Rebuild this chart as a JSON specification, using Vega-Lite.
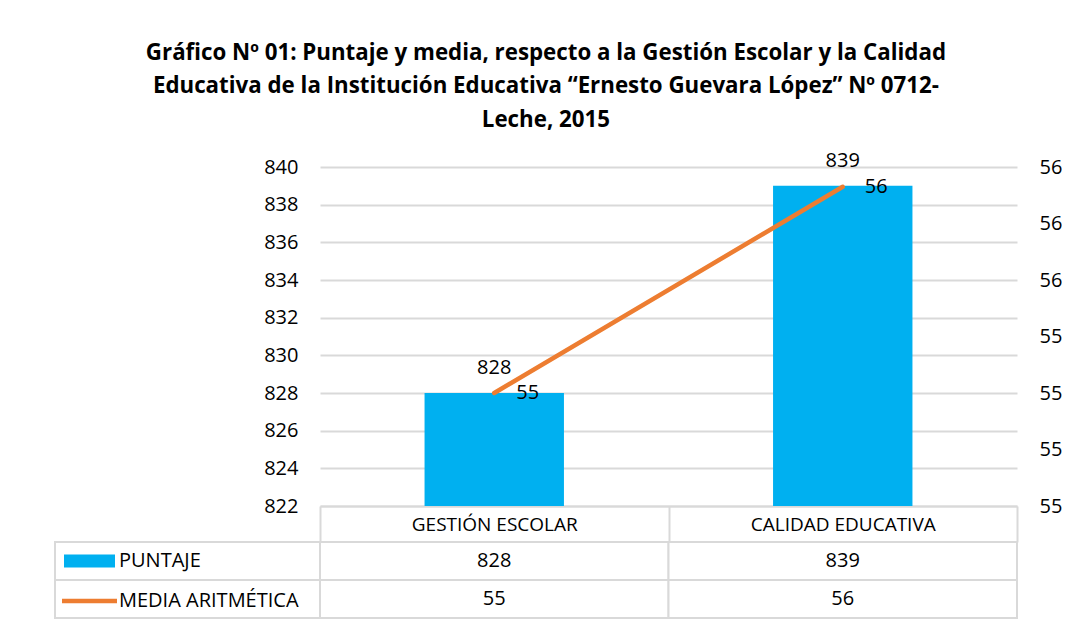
{
  "$schema": "https://vega.github.io/schema/vega-lite/v6.json",
  "padding": {"left": 54, "top": 41, "right": 0, "bottom": 0},
  "background": "white",
  "title": {
    "text": ["Gráfico Nº 01: Puntaje y media, respecto a la Gestión Escolar y la Calidad", "Educativa de la Institución Educativa “Ernesto Guevara López” Nº 0712-", "Leche, 2015"],
    "font": "Open Sans", "fontSize": 22.3, "fontWeight": "bold", "lineHeight": 33.5, "color": "#000000", "anchor": "middle", "offset": 20, "dx": -12
  },
  "datasets": {
    "tabla": [
      {"categoria": "GESTIÓN ESCOLAR", "serie": "PUNTAJE", "valor": 828},
      {"categoria": "CALIDAD EDUCATIVA", "serie": "PUNTAJE", "valor": 839},
      {"categoria": "GESTIÓN ESCOLAR", "serie": "MEDIA ARITMÉTICA", "valor": 55.2},
      {"categoria": "CALIDAD EDUCATIVA", "serie": "MEDIA ARITMÉTICA", "valor": 55.93}
    ]
  },
  "columns": 2,
  "bounds": "flush",
  "align": "each",
  "spacing": {"row": 36, "column": 0},
  "resolve": {"legend": {"color": "independent", "shape": "independent"}},
  "concat": [
    {
      "width": 265, "height": 339,
      "data": {"name": "tabla"},
      "transform": [{"filter": "datum.categoria === 'GESTIÓN ESCOLAR' && datum.serie === 'PUNTAJE'"}],
      "mark": {"type": "text", "text": ""},
      "encoding": {}
    },
    {
      "width": 697, "height": 339,
      "data": {"name": "tabla"},
      "encoding": {
        "x": {
          "field": "categoria", "type": "nominal", "sort": ["GESTIÓN ESCOLAR", "CALIDAD EDUCATIVA"],
          "scale": {"paddingInner": 0, "paddingOuter": 0}, "title": null,
          "axis": {"orient": "bottom", "domain": true, "domainColor": "#d9d9d9", "domainWidth": 2, "ticks": true, "tickBand": "extent", "tickSize": 36, "tickColor": "#d9d9d9", "tickWidth": 2, "labelPadding": -18, "labelBaseline": "middle", "labelAngle": 0, "labelFontSize": 19, "labelLimit": 400, "grid": false}
        }
      },
      "layer": [
        {
          "transform": [{"filter": "datum.serie === 'PUNTAJE'"}],
          "encoding": {
            "y": {
              "field": "valor", "type": "quantitative", "title": null,
              "scale": {"domain": [822, 840], "zero": false, "nice": false, "clamp": true},
              "axis": {"values": [822, 824, 826, 828, 830, 832, 834, 836, 838, 840], "grid": true, "gridColor": "#d9d9d9", "gridWidth": 2, "domain": false, "ticks": false, "labelPadding": 22, "format": "d"}
            }
          },
          "layer": [
            {"mark": {"type": "bar", "color": "#00B0F0", "width": {"band": 0.4}}},
            {"mark": {"type": "text", "baseline": "middle", "dy": -25, "fontSize": 20, "color": "#000000"}, "encoding": {"text": {"field": "valor", "type": "quantitative", "format": ".0f"}}}
          ]
        },
        {
          "transform": [{"filter": "datum.serie === 'MEDIA ARITMÉTICA'"}],
          "encoding": {
            "y": {
              "field": "valor", "type": "quantitative", "title": null,
              "scale": {"domain": [54.8, 56], "zero": false, "nice": false},
              "axis": {"orient": "right", "values": [54.8, 55, 55.2, 55.4, 55.6, 55.8, 56], "grid": false, "domain": false, "ticks": false, "labelPadding": 22, "format": ".0f"}
            }
          },
          "layer": [
            {"mark": {"type": "line", "color": "#ED7D31", "strokeWidth": 4.5, "strokeCap": "round"}},
            {"mark": {"type": "text", "align": "left", "baseline": "middle", "dx": 22, "fontSize": 20, "color": "#000000"}, "encoding": {"text": {"field": "valor", "type": "quantitative", "format": ".0f"}}}
          ]
        }
      ],
      "resolve": {"scale": {"y": "independent"}}
    },
    {
      "width": 265, "height": 76,
      "data": {"name": "tabla"},
      "transform": [{"filter": "datum.categoria === 'GESTIÓN ESCOLAR'"}],
      "encoding": {
        "y": {"field": "serie", "type": "nominal", "sort": ["PUNTAJE", "MEDIA ARITMÉTICA"], "scale": {"paddingInner": 0, "paddingOuter": 0}, "axis": null}
      },
      "layer": [
        {"mark": {"type": "rect", "fill": "white", "stroke": "#d9d9d9", "strokeWidth": 2}},
        {
          "transform": [{"filter": "datum.valor < 0"}],
          "mark": {"type": "point", "filled": true, "size": 400, "opacity": 1},
          "encoding": {
            "color": {
              "field": "serie", "type": "nominal",
              "scale": {"domain": ["PUNTAJE", "MEDIA ARITMÉTICA"], "range": ["#00B0F0", "#ED7D31"]},
              "legend": {
                "title": null, "orient": "top-left", "offset": 0, "padding": 8, "rowPadding": 19, "symbolSize": 400, "symbolOpacity": 1, "symbolStrokeColor": "transparent", "labelOffset": 34, "labelFontSize": 20, "labelFont": "Open Sans", "labelColor": "#000000", "labelLimit": 300,
                "encoding": {"symbols": {"update": {"opacity": {"value": 1}}}}
              }
            },
            "shape": {
              "field": "serie", "type": "nominal",
              "scale": {"domain": ["PUNTAJE", "MEDIA ARITMÉTICA"], "range": ["M-1,-0.65H4.1V0.65H-1Z", "M-1.2,-0.22H4.3V0.22H-1.2Z"]}
            }
          }
        }
      ]
    },
    {
      "width": 697, "height": 76,
      "data": {"name": "tabla"},
      "encoding": {
        "x": {"field": "categoria", "type": "nominal", "sort": ["GESTIÓN ESCOLAR", "CALIDAD EDUCATIVA"], "scale": {"paddingInner": 0, "paddingOuter": 0}, "axis": null},
        "y": {"field": "serie", "type": "nominal", "sort": ["PUNTAJE", "MEDIA ARITMÉTICA"], "scale": {"paddingInner": 0, "paddingOuter": 0}, "axis": null}
      },
      "layer": [
        {"mark": {"type": "rect", "fill": "white", "stroke": "#d9d9d9", "strokeWidth": 2}},
        {"mark": {"type": "text", "fontSize": 20, "color": "#000000"}, "encoding": {"text": {"field": "valor", "type": "quantitative", "format": ".0f"}}}
      ]
    }
  ],
  "config": {
    "view": {"stroke": null},
    "font": "Open Sans",
    "axis": {"labelFont": "Open Sans", "labelFontSize": 20, "labelColor": "#000000"},
    "text": {"font": "Open Sans"}
  }
}
